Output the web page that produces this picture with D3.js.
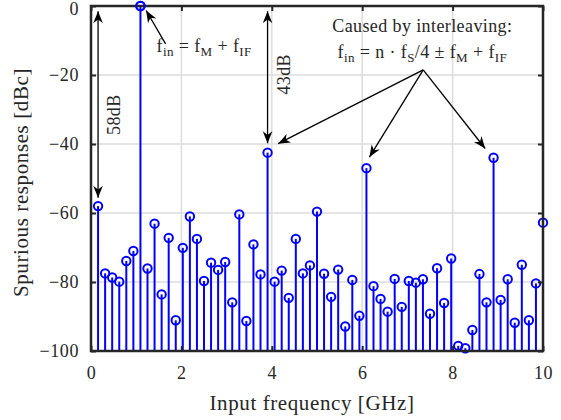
<!DOCTYPE html>
<meta charset="utf-8">
<title>Spurious responses</title>
<style>
body { margin: 0; background: #fff; }
svg text { font-family: "Liberation Serif", "DejaVu Serif", serif; fill: #262626; }
.grid line { stroke: #dcdcdc; stroke-width: 1.5px; }
.stems line { stroke: #0000ff; stroke-width: 2px; }
.stems circle { stroke: #0000ff; stroke-width: 2px; fill: none; }
.ann line { stroke: #000; stroke-width: 1.3px; }
</style>
<body>
<svg width="561" height="420"></svg>
<script src="https://cdn.jsdelivr.net/npm/d3@7"></script>
<script>
// spur levels in dBc, one per bin of 10/64 GHz
var bins = d3.range(1, 65)
var levels = [
	-58, -77.5, -78.7, -79.9, -73.9, -71, 0, -76.1, -63.1, -83.6,
	-67.2, -91.1, -70.1, -61, -67.5, -79.7, -74.4, -76.5, -74.2, -85.9,
	-60.4, -91.3, -69.1, -77.8, -42.5, -79.9, -76.7, -84.6, -67.5, -77.5,
	-75.2, -59.6, -77.6, -84.3, -76.4, -92.9, -79.4, -89.8, -47, -81.2,
	-84.9, -88.6, -79.1, -87.2, -79.7, -80.2, -79.2, -89.2, -76, -86.1,
	-73.2, -98.5, -99.2, -93.9, -77.7, -85.9, -44, -85.2, -79.2, -91.8,
	-75, -91.1, -80.4, -62.8
]
var freqs = bins.map(function(k) { return k * 10 / 64 })
var xTicks = [0, 2, 4, 6, 8, 10]
var yTicks = [0, -20, -40, -60, -80, -100]

var svg = d3.select("svg"),
	margin = {top: 6, right: 18, bottom: 69, left: 91},
	width = +svg.attr("width") - margin.left - margin.right,
	height = +svg.attr("height") - margin.top - margin.bottom

var g = svg.append("g").attr("transform", "translate(" + margin.left + "," + margin.top + ")")

var x = d3.scaleLinear().domain([0, 10]).range([0, width])
var y = d3.scaleLinear().domain([-100, 0]).range([height, 0])

// grid
var grid = g.append("g").attr("class", "grid")
grid.selectAll(".gx").data(xTicks.slice(1, -1)).enter().append("line")
	.attr("x1", x).attr("x2", x).attr("y1", 0).attr("y2", height)
grid.selectAll(".gy").data(yTicks.slice(1, -1)).enter().append("line")
	.attr("y1", y).attr("y2", y).attr("x1", 0).attr("x2", width)

// stems
var stems = g.append("g").attr("class", "stems")
stems.selectAll("line").data(levels).enter().append("line")
	.attr("x1", function(d, i) { return x(freqs[i]) })
	.attr("x2", function(d, i) { return x(freqs[i]) })
	.attr("y1", y(-100))
	.attr("y2", function(d) { return y(d) })
stems.selectAll("circle").data(levels).enter().append("circle")
	.attr("cx", function(d, i) { return x(freqs[i]) })
	.attr("cy", function(d) { return y(d) })
	.attr("r", 4.2)

// axes (box with inward ticks)
function styleAxis(sel) {
	sel.select(".domain").remove()
	sel.selectAll(".tick line").attr("stroke", "#262626").attr("stroke-width", 2)
	sel.selectAll(".tick text").attr("font-size", 18).attr("fill", "#262626")
		.attr("font-family", "Liberation Serif, DejaVu Serif, serif")
		.attr("letter-spacing", 0.6)
}
g.append("g").attr("transform", "translate(0," + height + ")")
	.call(d3.axisBottom(x).tickValues(xTicks).tickSizeInner(-5).tickPadding(15))
	.call(styleAxis)
var yAx = g.append("g")
	.call(d3.axisLeft(y).tickValues(yTicks).tickSizeInner(-5).tickPadding(12))
	.call(styleAxis)
yAx.selectAll(".tick text").filter(function(d) { return d === 0 }).attr("dy", "0.45em")
g.append("g")
	.call(d3.axisTop(x).tickValues(xTicks).tickSizeInner(-5).tickFormat(""))
	.call(styleAxis)
g.append("g").attr("transform", "translate(" + width + ",0)")
	.call(d3.axisRight(y).tickValues(yTicks).tickSizeInner(-5).tickFormat(""))
	.call(styleAxis)
g.append("rect").attr("width", width).attr("height", height)
	.attr("fill", "none").attr("stroke", "#262626").attr("stroke-width", 2.5)

// redraw the top circle above the frame
g.append("circle").attr("cx", x(freqs[6])).attr("cy", y(levels[6])).attr("r", 4.2)
	.attr("fill", "none").attr("stroke", "#0000ff").attr("stroke-width", 2)

// axis labels
svg.append("text").attr("x", margin.left + width / 2 - 5).attr("y", 410)
	.attr("text-anchor", "middle").attr("font-size", 21).attr("letter-spacing", 0.6)
	.text("Input frequency [GHz]")
svg.append("text").attr("transform", "translate(28," + (margin.top + height / 2 + 4) + ") rotate(-90)")
	.attr("text-anchor", "middle").attr("font-size", 21).attr("letter-spacing", 0.6)
	.text("Spurious responses [dBc]")

// annotations
var defs = svg.append("defs")
defs.append("marker").attr("id", "head").attr("viewBox", "0 0 10 10")
	.attr("refX", 10).attr("refY", 5).attr("markerWidth", 12).attr("markerHeight", 12)
	.attr("markerUnits", "userSpaceOnUse").attr("orient", "auto-start-reverse")
	.append("path").attr("d", "M0,1 L10,5 L0,9 L3,5 Z").attr("fill", "#000")

var ann = g.append("g").attr("class", "ann")
function arrow(x1, y1, x2, y2, both) {
	var l = ann.append("line")
		.attr("x1", x(x1)).attr("y1", y(y1)).attr("x2", x(x2)).attr("y2", y(y2))
		.attr("marker-end", "url(#head)")
	if (both) l.attr("marker-start", "url(#head)")
}
arrow(freqs[0], -1.5, freqs[0], -55.6, true)
arrow(freqs[24], -1.5, freqs[24], -39.8, true)
arrow(1.65, -11, 1.22, -1.3)
arrow(7.35, -18.5, 4.14, -39.9)
arrow(7.35, -18.5, 6.16, -43.8)
arrow(7.35, -18.5, 8.72, -41.3)

function vlabel(fx, fy, s) {
	g.append("text").attr("transform", "translate(" + x(fx) + "," + y(fy) + ") rotate(-90)")
		.attr("text-anchor", "middle").attr("dy", "0.35em").attr("font-size", 18)
		.attr("letter-spacing", 0.4).text(s)
}
vlabel(0.5, -31.5, "58dB")
vlabel(4.27, -19.8, "43dB")

// text with subscripts: parts = [[text, isSub], ...]
function rich(fx, fy, parts, anchor) {
	var t = g.append("text").attr("x", x(fx)).attr("y", y(fy))
		.attr("text-anchor", anchor).attr("font-size", 18).attr("letter-spacing", 0.4)
	var prevSub = false
	parts.forEach(function(p) {
		var s = t.append("tspan").text(p[0])
		if (p[1]) s.attr("font-size", 13).attr("dy", prevSub ? 0 : 4)
		else s.attr("dy", prevSub ? -4 : 0)
		prevSub = p[1]
	})
}
rich(1.45, -13.3, [["f", 0], ["in", 1], [" = f", 0], ["M", 1], [" + f", 0], ["IF", 1]], "start")
g.append("text").attr("x", x(7.33)).attr("y", y(-7.4)).attr("text-anchor", "middle")
	.attr("font-size", 18).attr("letter-spacing", 0.4).text("Caused by interleaving:")
rich(7.33, -15.1, [["f", 0], ["in", 1], [" = n \u00b7 f", 0], ["S", 1], ["/4 \u00b1 f", 0], ["M", 1], [" + f", 0], ["IF", 1]], "middle")
</script>
</body>
